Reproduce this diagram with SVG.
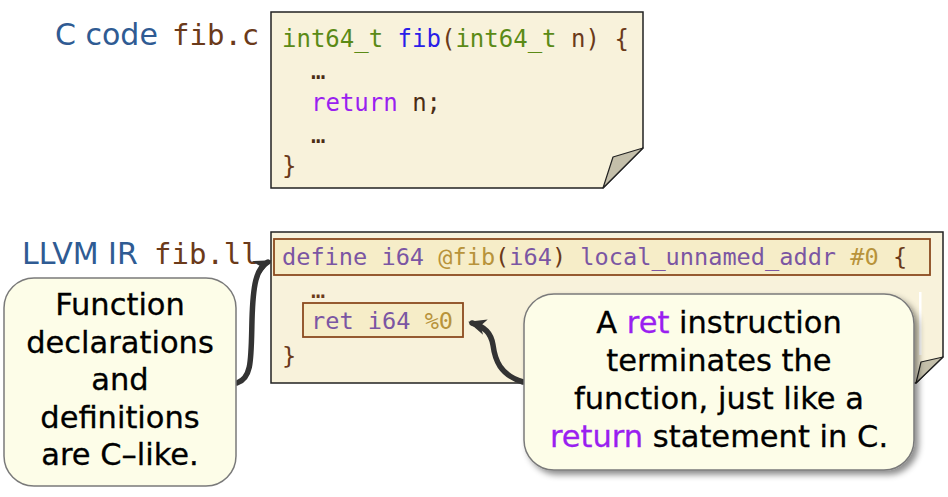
<svg xmlns="http://www.w3.org/2000/svg" width="948" height="497" viewBox="0 0 948 497">
<style>
.lbl{font-family:"DejaVu Sans","Liberation Sans",sans-serif;font-size:30px;fill:#2f5b93}
.fn{font-family:"DejaVu Sans Mono","Liberation Mono",monospace;font-size:29px;fill:#6b3a1a}
.cc{font-family:"DejaVu Sans Mono","Liberation Mono",monospace;font-size:24px;fill:#4a2c14}
.ir{font-family:"DejaVu Sans Mono","Liberation Mono",monospace;font-size:23.6px;fill:#7b56a3}
.paper{fill:#f8f2db;stroke:#222;stroke-width:1.5}
.flap{fill:#c4bfaa;stroke:#222;stroke-width:1.2;stroke-linejoin:round}
.hl{fill:#f6edc8;stroke:#8b4a1e;stroke-width:1.8}
.call{fill:#fdfde8;stroke:#7a7a7a;stroke-width:1.5}
.ct{font-family:"DejaVu Sans","Liberation Sans",sans-serif;font-size:30.5px;fill:#000;text-anchor:middle;stroke:#000;stroke-width:0.3}
.kw{fill:#9a1ff0}
.ct .kw{stroke:#9a1ff0}
.g{fill:#5b8a16}.b{fill:#2a1ee8}.br{fill:#6b3a1a}.au{fill:#b8933a}
.arr{fill:none;stroke:#333;stroke-width:5.5;stroke-linecap:round}
</style>
<defs>
<marker id="ah" markerUnits="userSpaceOnUse" markerWidth="20" markerHeight="20" viewBox="0 0 20 20" refX="14" refY="10" orient="auto">
<path d="M0,2 L18,10 L0,18 L5,10 z" fill="#333"/>
</marker>
<filter id="sh" x="-10%" y="-10%" width="125%" height="130%">
<feDropShadow dx="4" dy="4" stdDeviation="3" flood-color="#000" flood-opacity="0.45"/>
</filter>
</defs>

<g id="c-label">
<text class="lbl" x="55" y="45">C code</text>
<text class="fn" x="172" y="45">fib.c</text>
</g>

<g id="c-box">
<path class="paper" d="M271,12 H643 V148 L603,188 H271 Z"/>
<path class="flap" d="M643,148 L613,157 L603,188 Z"/>
<text class="cc" x="282" y="47"><tspan class="g">int64_t</tspan> <tspan class="b">fib</tspan><tspan class="br">(</tspan><tspan class="g">int64_t</tspan> <tspan class="br">n) {</tspan></text>
<text class="cc" x="311" y="79">…</text>
<text class="cc" x="311" y="111"><tspan class="kw">return</tspan> n;</text>
<text class="cc" x="311" y="143">…</text>
<text class="cc br" x="282" y="174">}</text>
</g>

<g id="ir-label">
<text class="lbl" x="22" y="264">LLVM IR</text>
<text class="fn" x="154" y="264">fib.ll</text>
</g>

<g id="ir-box">
<path class="paper" d="M271,232 H943 V357 L916,383 H271 Z"/>
<path class="flap" d="M943,357 L921,362 L916,383 Z"/>
<rect x="919" y="292" width="2.5" height="63" fill="#fff"/>
<rect class="hl" x="274" y="239" width="656" height="36"/>
<text class="ir" x="282" y="265">define i64 <tspan class="au">@fib</tspan><tspan class="br">(</tspan>i64<tspan class="br">)</tspan> local_unnamed_addr <tspan class="au">#0</tspan> <tspan class="br">{</tspan></text>
<text class="ir br" x="311" y="298">…</text>
<rect class="hl" x="303" y="303" width="160" height="34"/>
<text class="ir" x="311" y="329">ret i64 <tspan class="au">%0</tspan></text>
<text class="ir br" x="282" y="364">}</text>
</g>

<g id="connectors">
<path class="arr" marker-end="url(#ah)" d="M237,383 C252,378 251,360 252,320 C253,285 256,268 268,262"/>
<path class="arr" marker-end="url(#ah)" d="M523,382 C500,375 495,360 493,345 C491,333 485,327 472,323"/>
</g>

<g id="callout-left">
<rect class="call" x="4" y="278" width="232" height="208" rx="30"/>
<text class="ct" x="120" y="315">Function</text>
<text class="ct" x="120" y="353">declarations</text>
<text class="ct" x="120" y="390">and</text>
<text class="ct" x="120" y="428">definitions</text>
<text class="ct" x="120" y="465">are C–like.</text>
</g>

<g id="callout-right">
<rect class="call" x="524" y="294" width="390" height="176" rx="30" filter="url(#sh)"/>
<text class="ct" x="719" y="333">A <tspan class="kw">ret</tspan> instruction</text>
<text class="ct" x="719" y="371">terminates the</text>
<text class="ct" x="719" y="409">function, just like a</text>
<text class="ct" x="719" y="447"><tspan class="kw">return</tspan> statement in C.</text>
</g>
</svg>
